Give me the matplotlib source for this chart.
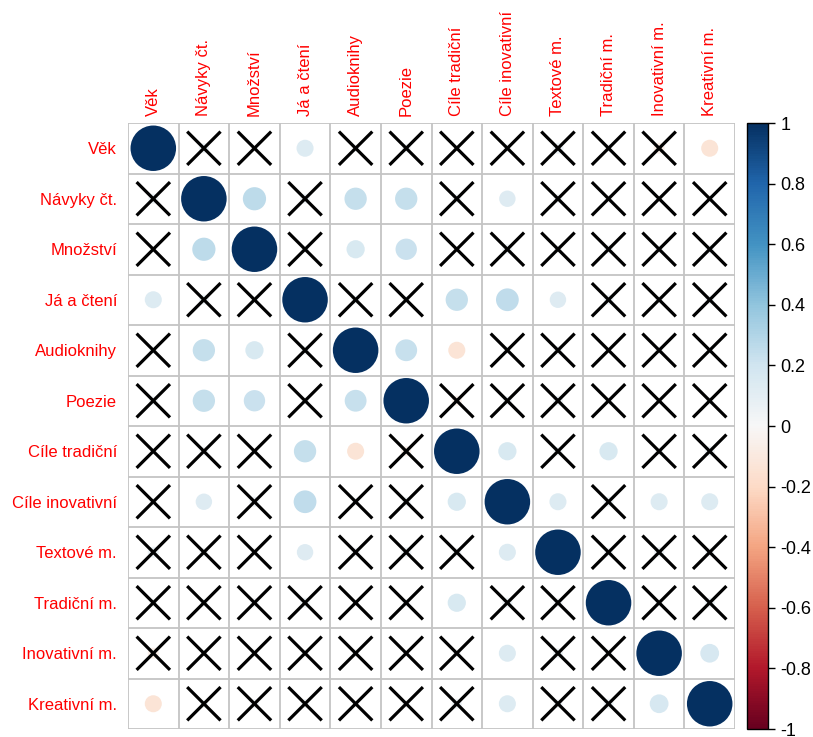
import numpy as np
import matplotlib
matplotlib.use("Agg")
import matplotlib.pyplot as plt
from matplotlib.patches import Circle
from matplotlib.collections import PatchCollection

matplotlib.rcParams.update({'font.family': ['Liberation Sans', 'DejaVu Sans']})

labels = ["Věk", "Návyky čt.", "Množství", "Já a čtení", "Audioknihy", "Poezie",
          "Cíle tradiční", "Cíle inovativní", "Textové m.", "Tradiční m.",
          "Inovativní m.", "Kreativní m."]

# upper triangle of the correlation matrix, row by row (values right of the diagonal)
upper = [
    [0.05, 0.02, 0.14, 0.03, 0.04, 0.02, 0.03, 0.06, 0.03, -0.06, -0.14],
    [0.26, 0.05, 0.24, 0.24, 0.04, 0.13, 0.04, 0.03, 0.02, 0.03],
    [0.03, 0.16, 0.22, 0.02, 0.05, 0.03, 0.04, 0.03, 0.04],
    [0.04, 0.03, 0.24, 0.25, 0.13, 0.05, 0.03, 0.04],
    [0.23, -0.14, 0.03, 0.04, 0.02, 0.03, 0.02],
    [-0.05, 0.04, 0.05, 0.03, 0.02, 0.03],
    [0.16, 0.04, 0.16, 0.03, 0.05],
    [0.14, 0.05, 0.14, 0.14],
    [0.04, 0.05, 0.04],
    [0.03, 0.05],
    [0.17],
]

# 1 = significant (circle shown), 0 = crossed out
sig_upper = [
    [0, 0, 1, 0, 0, 0, 0, 0, 0, 0, 1],
    [1, 0, 1, 1, 0, 1, 0, 0, 0, 0],
    [0, 1, 1, 0, 0, 0, 0, 0, 0],
    [0, 0, 1, 1, 1, 0, 0, 0],
    [1, 1, 0, 0, 0, 0, 0],
    [0, 0, 0, 0, 0, 0],
    [1, 0, 1, 0, 0],
    [1, 0, 1, 1],
    [0, 0, 0],
    [0, 0],
    [1],
]

n = len(labels)
corr = np.eye(n)
sig = np.eye(n)
for i in range(n - 1):
    for k, j in enumerate(range(i + 1, n)):
        corr[i, j] = corr[j, i] = upper[i][k]
        sig[i, j] = sig[j, i] = sig_upper[i][k]

fig = plt.figure(figsize=(8.13, 7.37), dpi=100)
ax = fig.add_axes([128 / 813, 8 / 737, 607 / 813, 606 / 737])
cax = fig.add_axes([747 / 813, 8 / 737, 21 / 813, 606 / 737])

# circles, area proportional to |r|
patches = []
vals = []
for i in range(n):
    for j in range(n):
        patches.append(Circle((j, i), 0.45 * np.sqrt(abs(corr[i, j]))))
        vals.append(corr[i, j])
pc = PatchCollection(patches, cmap='RdBu', edgecolor='none', zorder=2)
pc.set_array(np.array(vals))
pc.set_clim(-1, 1)
ax.add_collection(pc)

# crosses for non-significant cells
d = 0.33
for i in range(n):
    for j in range(n):
        if not sig[i, j]:
            ax.plot([j - d, j + d], [i - d, i + d], color='black', lw=2.3, zorder=3,
                    solid_capstyle='butt')
            ax.plot([j - d, j + d], [i + d, i - d], color='black', lw=2.3, zorder=3,
                    solid_capstyle='butt')

# grid
for k in range(n + 1):
    ax.axhline(k - 0.5, color='#c4c4c4', lw=1.3, zorder=1)
    ax.axvline(k - 0.5, color='#c4c4c4', lw=1.3, zorder=1)

ax.set_xlim(-0.5, n - 0.5)
ax.set_ylim(n - 0.5, -0.5)
ax.set_aspect('auto')
for s in ax.spines.values():
    s.set_visible(False)

ax.set_xticks(range(n))
ax.set_xticklabels(labels, rotation=90, color='red', fontsize=12)
ax.xaxis.tick_top()
ax.set_yticks(range(n))
ax.set_yticklabels(labels, color='red', fontsize=12)
ax.tick_params(axis='y', length=0, pad=8)
ax.tick_params(axis='x', length=0, pad=5)

cb = fig.colorbar(pc, cax=cax, ticks=np.arange(-1, 1.01, 0.2))
cb.ax.set_yticklabels(["-1", "-0.8", "-0.6", "-0.4", "-0.2", "0",
                       "0.2", "0.4", "0.6", "0.8", "1"])
cb.ax.tick_params(labelsize=13, length=5, width=1, direction='out', pad=4)
cb.outline.set_edgecolor('black')
cb.outline.set_linewidth(1)

fig.savefig("out.png", dpi=100)
